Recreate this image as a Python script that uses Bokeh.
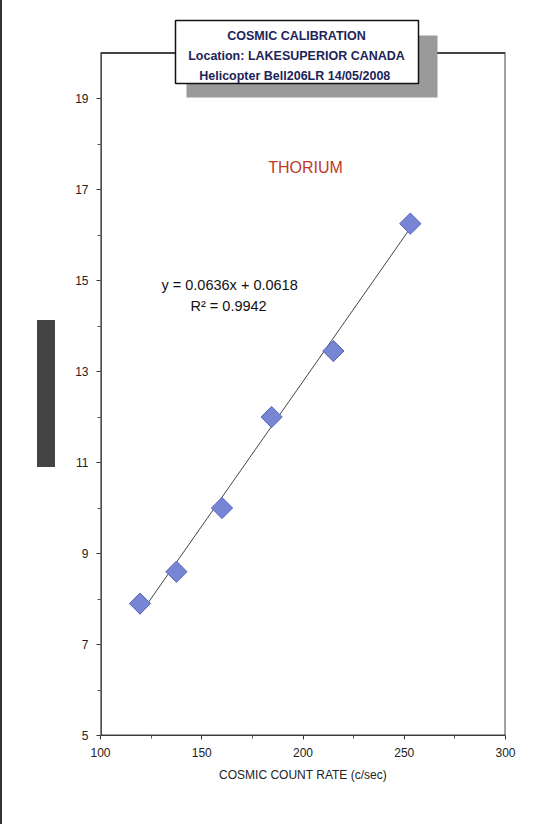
from bokeh.plotting import figure
from bokeh.models import (Range1d, FixedTicker, BoxAnnotation, Label, ColumnDataSource, Div)
from bokeh.layouts import row
from bokeh.embed import file_html
from bokeh.resources import INLINE
import numpy as np

# ---- data ----
count_rate = [119.5, 137.5, 160.0, 184.5, 215.0, 253.0]
thorium = [7.9, 8.6, 10.0, 12.0, 13.45, 16.25]
slope = 0.0636
intercept = 0.0618
r2 = 0.9942
x_ticks = [100, 150, 200, 250, 300]
x_minor = [125, 175, 225, 275]
y_ticks = [5, 7, 9, 11, 13, 15, 17, 19]
y_minor = [6, 8, 10, 12, 14, 16, 18]
title_lines = ["COSMIC CALIBRATION", "Location: LAKESUPERIOR CANADA",
               "Helicopter Bell206LR  14/05/2008"]
series_name = "THORIUM"
x_label = "COSMIC COUNT RATE (c/sec)"

FONT = "Liberation Sans"
X0, X1, Y0, Y1 = 100, 300, 5, 20      # plotted area
LEFT_W = 70                           # width of the left strip (Div)
# frame: left at 100 px, top at 15 px, bottom at 735 px; 45.5 px per y unit
y_top = Y1 + (52.5 - 15) / 45.5

left_strip = Div(
    text=('<div style="position:relative;width:%dpx;height:824px;">'
          '<div style="position:absolute;left:0;top:0;width:2px;height:824px;background:#333;"></div>'
          '<div style="position:absolute;left:37px;top:320px;width:18px;height:147px;background:#444;"></div>'
          '</div>') % LEFT_W,
    width=LEFT_W, height=824, margin=0)

p = figure(width=555 - LEFT_W, height=824, x_range=Range1d(X0, X1), y_range=Range1d(Y0, y_top),
           output_backend="svg", toolbar_location=None, margin=0,
           min_border_left=30, min_border_right=50, min_border_top=15,
           min_border_bottom=89)
p.background_fill_color = "white"
p.border_fill_color = "white"
p.outline_line_color = None
p.xgrid.visible = False
p.ygrid.visible = False

for ax in (p.xaxis[0], p.yaxis[0]):
    ax.axis_line_color = "#333333"
    ax.major_tick_line_color = "#333333"
    ax.minor_tick_line_color = "#555555"
    ax.major_tick_out = 4
    ax.major_tick_in = 0
    ax.minor_tick_out = 3
    ax.minor_tick_in = 0
    ax.major_label_text_font = FONT
    ax.major_label_text_font_size = "12px"
    ax.major_label_text_color = "#222222"
    ax.major_label_standoff = 8
p.yaxis.axis_line_color = None

p.xaxis.ticker = FixedTicker(ticks=x_ticks, minor_ticks=x_minor)
p.yaxis.ticker = FixedTicker(ticks=y_ticks, minor_ticks=y_minor)
p.xaxis.axis_label = x_label
p.xaxis.axis_label_text_font = FONT
p.xaxis.axis_label_text_font_size = "12px"
p.xaxis.axis_label_text_font_style = "normal"
p.xaxis.axis_label_text_color = "#222222"
p.xaxis.axis_label_standoff = 8

# plot-area border
p.add_layout(BoxAnnotation(left=X0, right=X1, bottom=Y0, top=Y1,
                           fill_alpha=0, line_color="#444444", line_alpha=1, line_width=2))
# left axis line (1.2 px strip inside the frame edge)
p.add_layout(BoxAnnotation(left=X0, right=X0 + 0.6, bottom=Y0, top=Y1,
                           fill_color="#333333", fill_alpha=1, line_color=None))

# trendline
xs = np.array([min(count_rate), max(count_rate)])
p.line(xs, slope * xs + intercept, line_color="#444444", line_width=1)

# points
src = ColumnDataSource(dict(x=count_rate, y=thorium))
p.scatter("x", "y", source=src, marker="square", size=15, angle=np.pi / 4,
          fill_color="#7885d4", line_color="#5464b8", line_width=1)

# title box with shadow (canvas px of this figure)
def cbox(l, r, t, b, **kw):
    return BoxAnnotation(left=l - LEFT_W, right=r - LEFT_W, top=t, bottom=b,
                         left_units="canvas", right_units="canvas",
                         top_units="canvas", bottom_units="canvas", **kw)

p.add_layout(cbox(186, 437, 35, 97, fill_color="#9a9a9a", fill_alpha=1, line_color=None))
p.add_layout(cbox(175, 418, 20, 83, fill_color="white", fill_alpha=1,
                  line_color="#111111", line_alpha=1, line_width=1.5))
for i, t in enumerate(title_lines):
    p.add_layout(Label(x=296 - LEFT_W, y=35 + 20 * i, x_units="canvas", y_units="canvas",
                       text=t, text_font=FONT, text_font_size="12.5px",
                       text_font_style="bold", text_color="#1c2459",
                       text_align="center", text_baseline="middle"))

# series name and equation
p.add_layout(Label(x=305 - LEFT_W, y=167, x_units="canvas", y_units="canvas", text=series_name,
                   text_font=FONT, text_font_size="16px", text_color="#c0392b",
                   text_align="center", text_baseline="middle"))
p.add_layout(Label(x=161 - LEFT_W, y=284, x_units="canvas", y_units="canvas",
                   text=f"y = {slope}x + {intercept}",
                   text_font=FONT, text_font_size="14.5px", text_color="#111111",
                   text_align="left", text_baseline="middle"))
p.add_layout(Label(x=190 - LEFT_W, y=305, x_units="canvas", y_units="canvas",
                   text=f"R\u00b2 = {r2}",
                   text_font=FONT, text_font_size="14.5px", text_color="#111111",
                   text_align="left", text_baseline="middle"))

layout = row(left_strip, p, spacing=0, margin=0)
open("out.html", "w").write(file_html(layout, INLINE))
